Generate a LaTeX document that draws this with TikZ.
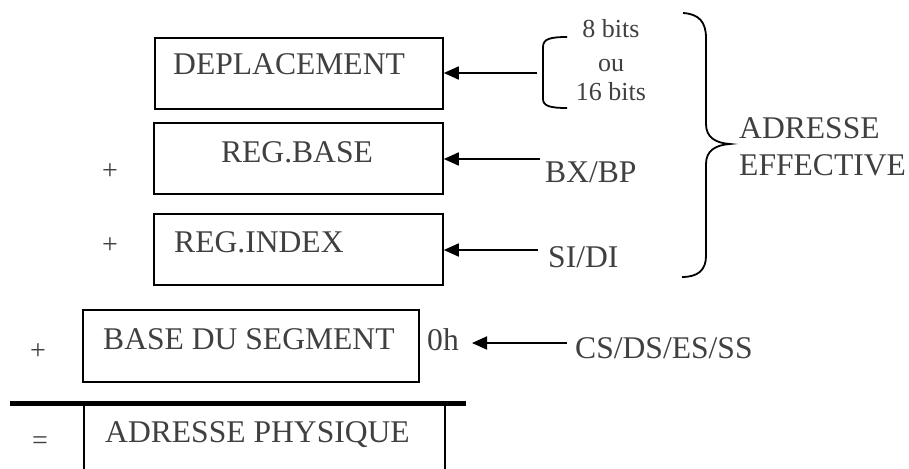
\documentclass[tikz,border=0pt]{standalone}
\usepackage{fontspec}
\setmainfont{Liberation Serif}
\usetikzlibrary{arrows.meta}
\definecolor{txt}{HTML}{404040}
\tikzset{
  big/.style={font=\fontsize{31.6}{36}\selectfont, text=txt, inner sep=0pt},
  small/.style={font=\fontsize{26}{30}\selectfont, text=txt, inner sep=0pt},
  op/.style={font=\fontsize{28}{30}\selectfont, text=txt, inner sep=0pt},
  regbox/.style={draw, line width=1.8pt, inner sep=0pt},
  arr/.style={line width=1.8pt, -{Triangle[length=15pt,width=13pt]}},
  brace/.style={line width=1.8pt}
}
\begin{document}
\begin{tikzpicture}[x=1pt,y=-1pt]
\useasboundingbox (0,0) rectangle (909,468);
% boxes
\node[regbox, minimum width=288pt, minimum height=71pt, anchor=north west] (bdep) at (154,37) {};
\node[regbox, minimum width=289pt, minimum height=71pt, anchor=north west] (bbase) at (153,122) {};
\node[regbox, minimum width=289pt, minimum height=71pt, anchor=north west] (bindex) at (153,213) {};
\node[regbox, minimum width=336pt, minimum height=72pt, anchor=north west] (bseg) at (82,309) {};
% box texts
\node[big, anchor=base west] (tdep) at (173,75) {DEPLACEMENT};
\node[big, anchor=base] (tbase) at (297,162) {REG.BASE};
\node[big, anchor=base west] (tindex) at (174,252) {REG.INDEX};
\node[big, anchor=base west] (tseg) at (103,349) {BASE DU SEGMENT};
\node[big, anchor=base west] (tphys) at (105,442) {ADRESSE PHYSIQUE};
% operators
\node[op] (p1) at (110,172) {+};
\node[op] (p2) at (110,246) {+};
\node[op] (p3) at (38,352) {+};
\node[op] (eq) at (40,443) {=};
% sum line and final box sides
\coordinate (sl) at (10,403);
\coordinate (sr) at (466,403);
\draw[line width=5pt] (sl) -- (sr);
\draw[line width=1.8pt] (84,403) -- (84,470);
\draw[line width=1.8pt] (445,403) -- (445,470);
% sources
\node[small, anchor=base] (s8) at (611,38) {8 bits};
\node[small, anchor=base] (sou) at (611,72) {ou};
\node[small, anchor=base] (s16) at (611,100) {16 bits};
\node[big, anchor=base west] (sbx) at (545,182) {BX/BP};
\node[big, anchor=base west] (ssi) at (548,267) {SI/DI};
\node[big, anchor=base west] (zh) at (427,350) {0h};
\node[big, anchor=base west] (scs) at (575,358) {CS/DS/ES/SS};
\node[big, anchor=base west] (ae1) at (739,139) {ADRESSE};
\node[big, anchor=base west] (ae2) at (739,175) {EFFECTIVE};
% arrow start points
\coordinate (a1) at (537,73);
\coordinate (a2) at (540,159);
\coordinate (a3) at (538,250);
\coordinate (a4) at (567,343);
\coordinate (a4e) at (472,343);
% arrows
\draw[arr] (a1) -- (a1 -| bdep.east);
\draw[arr] (a2) -- (a2 -| bbase.east);
\draw[arr] (a3) -- (a3 -| bindex.east);
\draw[arr] (a4) -- (a4e);
% small bracket
\draw[brace] (567,37) .. controls (550,37) and (543,39) .. (543,47) -- (543,99) .. controls (543,106) and (550,108) .. (567,108);
% big brace
\draw[brace] (683,13) .. controls (699,14) and (706,22) .. (706,38) -- (706,124) .. controls (706,137) and (715,143) .. (730,144) .. controls (715,145) and (706,151) .. (706,164) -- (706,256) .. controls (706,270) and (698,277) .. (682,277);
\end{tikzpicture}
\end{document}
